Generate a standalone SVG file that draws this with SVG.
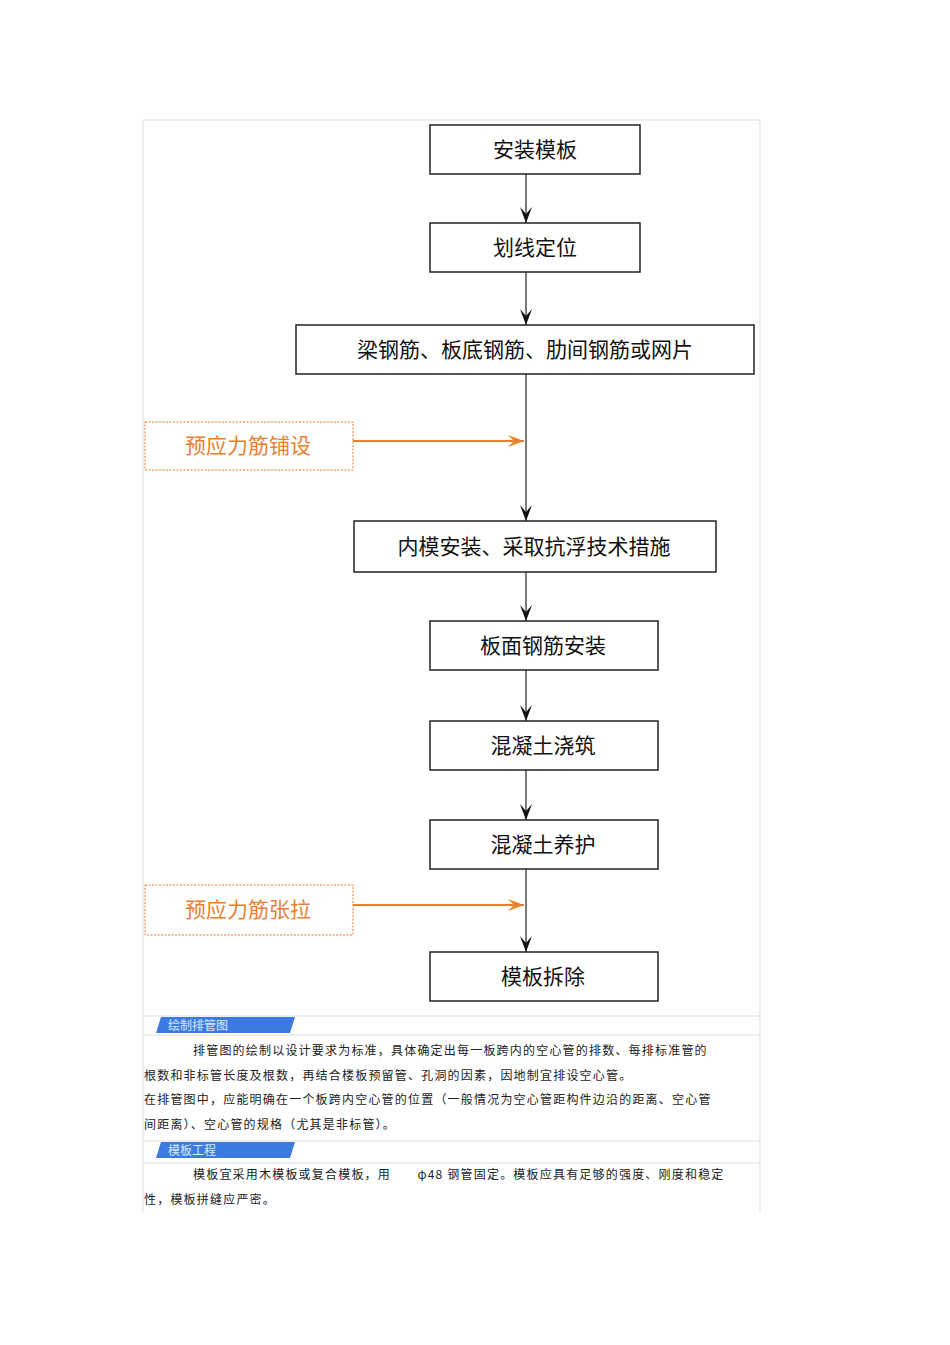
<svg xmlns="http://www.w3.org/2000/svg" width="950" height="1345" viewBox="0 0 950 1345">
<defs>
<style>
.b{fill:#fff;stroke:#222;stroke-width:1.5}
.t{font-family:"Noto Sans CJK SC","Liberation Sans",sans-serif;font-size:21px;fill:#111;text-anchor:middle}
.o{fill:#fff;stroke:#e87a2a;stroke-width:1;stroke-dasharray:2 1.5}
.ot{font-family:"Noto Sans CJK SC","Liberation Sans",sans-serif;font-size:21px;fill:#e8802e;text-anchor:middle}
.p{font-family:"Noto Sans CJK SC","Liberation Sans",sans-serif;font-size:12px;letter-spacing:1.2px;fill:#222}
.h{font-family:"Noto Sans CJK SC","Liberation Sans",sans-serif;font-size:12px;fill:#dde8ff}
.c{stroke:#333;stroke-width:1.3;fill:none}
.oc{stroke:#e8802e;stroke-width:1.8;fill:none}
.f{stroke:#ddd;stroke-width:1;fill:none}
</style>
<marker id="a" viewBox="0 0 16 12" refX="16" refY="6" markerWidth="16" markerHeight="12" markerUnits="userSpaceOnUse" orient="auto"><path d="M0,0 L16,6 L0,12 L7,6 Z" fill="#111"/></marker>
<marker id="oa" viewBox="0 0 16 12" refX="16" refY="6" markerWidth="16" markerHeight="12" markerUnits="userSpaceOnUse" orient="auto"><path d="M0,0 L16,6 L0,12 L6,6 Z" fill="#e8802e"/></marker>
</defs>
<rect width="950" height="1345" fill="#fff"/>
<path class="f" d="M143,120 H760 M143,120 V1212 M760,120 V1212 M143,1016 H760 M143,1035 H760 M143,1141 H760 M143,1163 H760"/>
<g id="hdr1"><path d="M161,1017 H295 L290,1033 H156 Z" fill="#3b7be0"/><text class="h" x="168" y="1030">绘制排管图</text></g>
<g id="hdr2"><path d="M161,1142 H295 L290,1158 H156 Z" fill="#3b7be0"/><text class="h" x="168" y="1155">模板工程</text></g>
<g id="para">
<text class="p" x="193" y="1055">排管图的绘制以设计要求为标准，具体确定出每一板跨内的空心管的排数、每排标准管的</text>
<text class="p" x="144" y="1080">根数和非标管长度及根数，再结合楼板预留管、孔洞的因素，因地制宜排设空心管。</text>
<text class="p" x="144" y="1104">在排管图中，应能明确在一个板跨内空心管的位置（一般情况为空心管距构件边沿的距离、空心管</text>
<text class="p" x="144" y="1129">间距离）、空心管的规格（尤其是非标管）。</text>
<text class="p" x="193" y="1179">模板宜采用木模板或复合模板，用　　φ48 钢管固定。模板应具有足够的强度、刚度和稳定</text>
<text class="p" x="144" y="1204">性，模板拼缝应严密。</text>
</g>
<g id="edges">
<line class="c" x1="526" y1="174" x2="526" y2="223" marker-end="url(#a)"/>
<line class="c" x1="526" y1="272" x2="526" y2="325" marker-end="url(#a)"/>
<line class="c" x1="526" y1="374" x2="526" y2="521" marker-end="url(#a)"/>
<line class="c" x1="526" y1="572" x2="526" y2="621" marker-end="url(#a)"/>
<line class="c" x1="526" y1="670" x2="526" y2="721" marker-end="url(#a)"/>
<line class="c" x1="526" y1="770" x2="526" y2="820" marker-end="url(#a)"/>
<line class="c" x1="526" y1="869" x2="526" y2="952" marker-end="url(#a)"/>
<line class="oc" x1="353" y1="441" x2="524" y2="441" marker-end="url(#oa)"/>
<line class="oc" x1="353" y1="905" x2="524" y2="905" marker-end="url(#oa)"/>
</g>
<g id="n1"><rect class="b" x="430" y="125" width="210" height="49"/><text class="t" x="535" y="157">安装模板</text></g>
<g id="n2"><rect class="b" x="430" y="223" width="210" height="49"/><text class="t" x="535" y="255">划线定位</text></g>
<g id="n3"><rect class="b" x="296" y="325" width="458" height="49"/><text class="t" x="525" y="357">梁钢筋、板底钢筋、肋间钢筋或网片</text></g>
<g id="o1"><rect class="o" x="145" y="422" width="208" height="48"/><text class="ot" x="248" y="453">预应力筋铺设</text></g>
<g id="n4"><rect class="b" x="354" y="521" width="362" height="51"/><text class="t" x="534" y="554">内模安装、采取抗浮技术措施</text></g>
<g id="n5"><rect class="b" x="430" y="621" width="228" height="49"/><text class="t" x="543" y="653">板面钢筋安装</text></g>
<g id="n6"><rect class="b" x="430" y="721" width="228" height="49"/><text class="t" x="543" y="753">混凝土浇筑</text></g>
<g id="n7"><rect class="b" x="430" y="820" width="228" height="49"/><text class="t" x="543" y="852">混凝土养护</text></g>
<g id="o2"><rect class="o" x="145" y="885" width="208" height="50"/><text class="ot" x="248" y="917">预应力筋张拉</text></g>
<g id="n8"><rect class="b" x="430" y="952" width="228" height="49"/><text class="t" x="543" y="984">模板拆除</text></g>
</svg>
